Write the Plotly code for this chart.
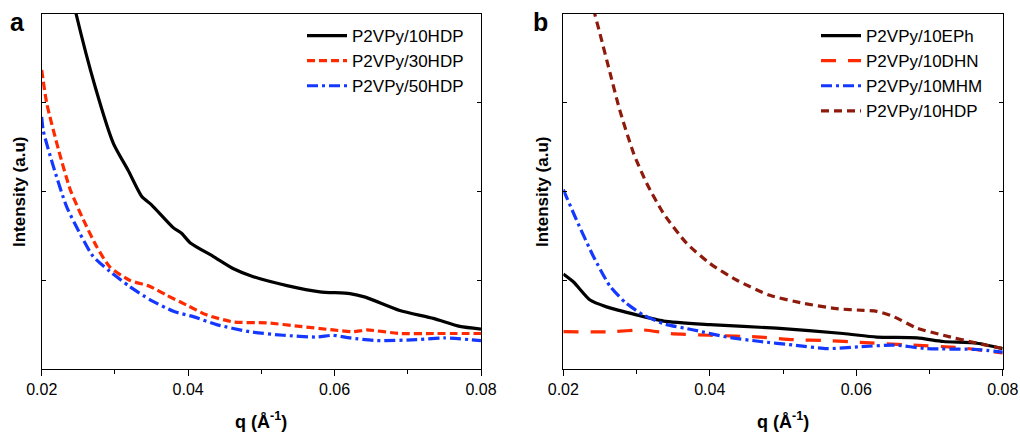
import plotly.graph_objects as go

# ---------- Panel a data (q in 1/Å, intensity in arbitrary units) ----------
a_10hdp_q = [0.0243, 0.0247, 0.0273, 0.0298, 0.0318, 0.0337, 0.0350, 0.0380, 0.0391, 0.0403, 0.0434,
             0.0462, 0.0489, 0.0535, 0.0580, 0.0621, 0.0642, 0.0689, 0.0735, 0.0771, 0.0800]
a_10hdp_i = [4.15, 4.00, 3.18, 2.54, 2.24, 1.94, 1.85, 1.59, 1.53, 1.42, 1.27,
             1.13, 1.04, 0.94, 0.87, 0.85, 0.81, 0.66, 0.57, 0.48, 0.45]

a_30hdp_q = [0.0200, 0.0207, 0.0223, 0.0239, 0.0257, 0.0275, 0.0293, 0.0320, 0.0348, 0.0371, 0.0398,
             0.0425, 0.0462, 0.0507, 0.0553, 0.0598, 0.0626, 0.0644, 0.0689, 0.0735, 0.0800]
a_30hdp_i = [3.37, 2.99, 2.47, 2.02, 1.68, 1.38, 1.15, 1.00, 0.93, 0.83, 0.72,
             0.61, 0.53, 0.52, 0.48, 0.44, 0.42, 0.44, 0.40, 0.40, 0.40]

a_50hdp_q = [0.0200, 0.0202, 0.0216, 0.0234, 0.0252, 0.0270, 0.0293, 0.0320, 0.0348, 0.0380, 0.0407,
             0.0439, 0.0484, 0.0530, 0.0576, 0.0598, 0.0621, 0.0658, 0.0712, 0.0749, 0.0800]
a_50hdp_i = [2.84, 2.69, 2.28, 1.83, 1.53, 1.27, 1.10, 0.93, 0.78, 0.65, 0.59,
             0.50, 0.42, 0.38, 0.36, 0.38, 0.35, 0.32, 0.33, 0.35, 0.32]

# ---------- Panel b data ----------
b_eph_q = [0.0200, 0.0214, 0.0236, 0.0259, 0.0300, 0.0337, 0.0400, 0.0491, 0.0582, 0.0628, 0.0683,
           0.0719, 0.0765, 0.0800]
b_eph_i = [1.07, 0.98, 0.78, 0.70, 0.61, 0.54, 0.50, 0.46, 0.40, 0.36, 0.35,
           0.31, 0.29, 0.23]

b_dhn_q = [0.0200, 0.0264, 0.0309, 0.0346, 0.0400, 0.0469, 0.0514, 0.0560, 0.0605, 0.0674, 0.0742, 0.0800]
b_dhn_i = [0.42, 0.42, 0.44, 0.40, 0.38, 0.36, 0.33, 0.32, 0.30, 0.27, 0.24, 0.18]

b_mhm_q = [0.0200, 0.0218, 0.0241, 0.0264, 0.0286, 0.0309, 0.0337, 0.0378, 0.0423, 0.0469, 0.0514,
           0.0560, 0.0605, 0.0651, 0.0696, 0.0765, 0.0800]
b_mhm_i = [2.02, 1.68, 1.27, 0.93, 0.74, 0.61, 0.51, 0.44, 0.36, 0.31, 0.27,
           0.23, 0.25, 0.27, 0.23, 0.22, 0.19]

b_hdp_q = [0.0238, 0.0243, 0.0250, 0.0264, 0.0277, 0.0296, 0.0314, 0.0337, 0.0368, 0.0400, 0.0437,
           0.0482, 0.0528, 0.0573, 0.0610, 0.0628, 0.0651, 0.0683, 0.0719, 0.0765, 0.0800]
b_hdp_i = [4.20, 4.00, 3.78, 3.33, 2.92, 2.43, 2.09, 1.75, 1.42, 1.19, 1.00,
           0.83, 0.74, 0.68, 0.66, 0.65, 0.59, 0.46, 0.38, 0.29, 0.23]

x_ticks = [0.02, 0.04, 0.06, 0.08]
x_tick_labels = ["0.02", "0.04", "0.06", "0.08"]

FONT = "Liberation Sans, Arial, sans-serif"
BLACK = "#000000"
RED = "#ff2a00"
BLUE = "#1438ff"
DARKRED = "#8e1a0c"
LW = 3.2

fig = go.Figure()

def add(q, i, name, color, dash, xa, ya, legend):
    fig.add_trace(go.Scatter(x=q, y=i, mode="lines", name=name,
                             line=dict(color=color, width=LW, dash=dash, shape="spline", smoothing=0.6),
                             xaxis=xa, yaxis=ya, legend=legend))

add(a_10hdp_q, a_10hdp_i, "P2VPy/10HDP", BLACK, "solid", "x", "y", "legend")
add(a_30hdp_q, a_30hdp_i, "P2VPy/30HDP", RED, "8px,4px", "x", "y", "legend")
add(a_50hdp_q, a_50hdp_i, "P2VPy/50HDP", BLUE, "11px,4px,3px,4px", "x", "y", "legend")

add(b_eph_q, b_eph_i, "P2VPy/10EPh", BLACK, "solid", "x2", "y2", "legend2")
add(b_dhn_q, b_dhn_i, "P2VPy/10DHN", RED, "15px,12px", "x2", "y2", "legend2")
add(b_mhm_q, b_mhm_i, "P2VPy/10MHM", BLUE, "11px,4px,3px,4px", "x2", "y2", "legend2")
add(b_hdp_q, b_hdp_i, "P2VPy/10HDP", DARKRED, "8px,5px", "x2", "y2", "legend2")

W, H = 1020, 432
def px_x(p):
    return p / W
def px_y(p):
    return (H - p) / H

xa_common = dict(range=[0.02, 0.08], tickvals=x_ticks, ticktext=x_tick_labels,
                 ticks="outside", ticklen=6, tickwidth=1, tickcolor="black",
                 showline=True, linecolor="black", linewidth=1, mirror=True,
                 showgrid=False, zeroline=False, automargin=False,
                 tickfont=dict(family=FONT, size=16, color="black"),
                 minor=dict(tickvals=[0.03, 0.05, 0.07], ticks="outside", ticklen=4,
                            tickwidth=1, tickcolor="black", showgrid=False))
ya_common = dict(range=[0, 4], tickvals=[1, 2, 3], showticklabels=False,
                 ticks="inside", ticklen=4, tickwidth=1, tickcolor="black",
                 showline=True, linecolor="black", linewidth=1, mirror="ticks",
                 showgrid=False, zeroline=False, automargin=False,
                 domain=[px_y(369), px_y(14)])

fig.update_layout(
    template="none",
    width=W, height=H,
    margin=dict(l=0, r=0, t=0, b=0, autoexpand=False),
    paper_bgcolor="white", plot_bgcolor="white",
    showlegend=True,
    xaxis=dict(domain=[px_x(41.7), px_x(481)], anchor="y", **xa_common),
    yaxis=dict(anchor="x", **ya_common),
    xaxis2=dict(domain=[px_x(563.3), px_x(1002.7)], anchor="y2", **xa_common),
    yaxis2=dict(anchor="x2", **ya_common),
    legend=dict(x=px_x(302), y=px_y(18), xanchor="left", yanchor="top",
                bgcolor="rgba(0,0,0,0)", itemwidth=40, tracegroupgap=0, borderwidth=0,
                font=dict(family=FONT, size=17, color="black")),
    legend2=dict(x=px_x(816), y=px_y(18), xanchor="left", yanchor="top",
                 bgcolor="rgba(0,0,0,0)", itemwidth=40, tracegroupgap=0, borderwidth=0,
                 font=dict(family=FONT, size=17, color="black")),
)

annos = [
    dict(text="<b>a</b>", x=px_x(17), y=px_y(22), font=dict(size=25)),
    dict(text="<b>b</b>", x=px_x(540), y=px_y(22), font=dict(size=25)),
    dict(text="<b>q (Å<sup>-1</sup>)</b>", x=px_x(261), y=px_y(420), font=dict(size=18)),
    dict(text="<b>q (Å<sup>-1</sup>)</b>", x=px_x(783), y=px_y(420), font=dict(size=18)),
    dict(text="<b>Intensity (a.u)</b>", x=px_x(19), y=px_y(192), font=dict(size=17), textangle=-90),
    dict(text="<b>Intensity (a.u)</b>", x=px_x(542), y=px_y(192), font=dict(size=17), textangle=-90),
]
for a in annos:
    font = dict(family=FONT, color="black")
    font.update(a.pop("font"))
    fig.add_annotation(xref="paper", yref="paper", xanchor="center", yanchor="middle",
                       showarrow=False, font=font, **a)

fig.write_html("out.html")
